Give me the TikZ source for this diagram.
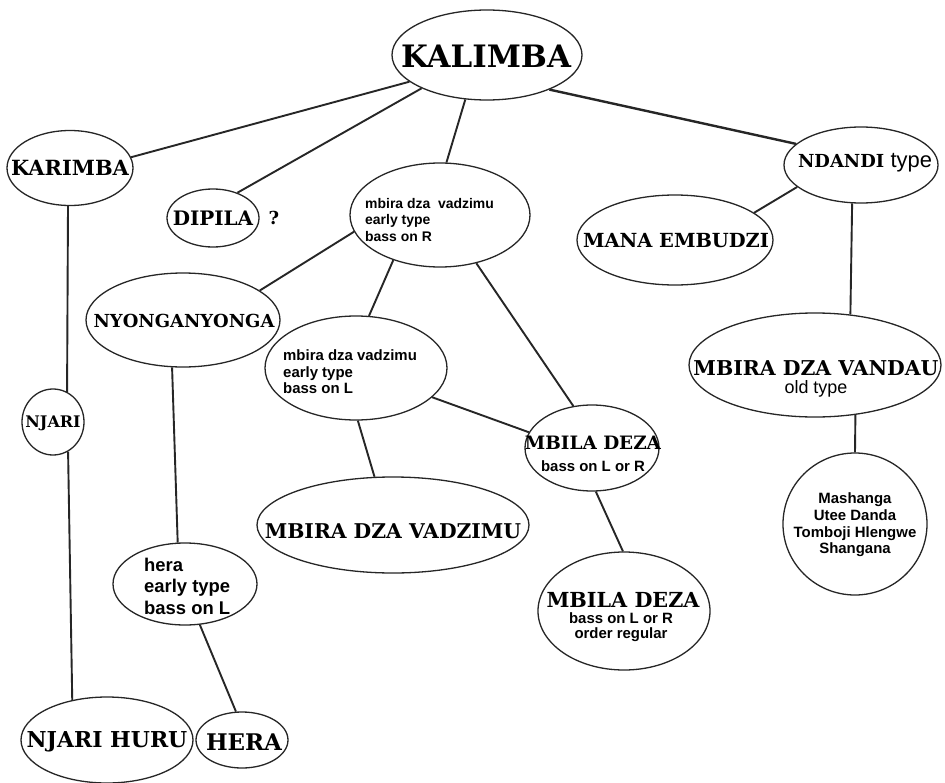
\documentclass[tikz,border=0pt]{standalone}
\usepackage{fontspec}
\setmainfont{Liberation Sans}
\newfontfamily\hv{DejaVu Serif}
\usetikzlibrary{shapes.geometric}
\newcommand{\hvf}[1]{\hv\bfseries\fontsize{#1}{#1}\selectfont}
\newcommand{\sbf}[2]{\bfseries\fontsize{#1}{#2}\selectfont}
\newcommand{\snf}[1]{\normalfont\fontsize{#1}{#1}\selectfont}
\tikzset{
  bub/.style={ellipse, draw=black!85, line width=1.3bp, inner sep=0pt},
  con/.style={draw=black!85, line width=1.9bp},
  txt/.style={inner sep=0pt, text=black},
}
\begin{document}
\begin{tikzpicture}[x=1bp,y=-1bp]
\useasboundingbox[fill=white] (0,0) rectangle (945,783);
% ellipses
\node[bub, minimum width=190bp, minimum height=90bp] (kalimba) at (487,55) {};
\node[bub, minimum width=126bp, minimum height=75bp] (karimba) at (70,168) {};
\node[bub, minimum width=92bp, minimum height=58bp] (dipila) at (213,218) {};
\node[bub, minimum width=180bp, minimum height=104bp] (vadzR) at (440,215) {};
\node[bub, minimum width=154bp, minimum height=76bp] (ndandi) at (861,165) {};
\node[bub, minimum width=196bp, minimum height=90bp] (mana) at (675,240) {};
\node[bub, minimum width=194bp, minimum height=94bp] (nyong) at (183,320) {};
\node[bub, minimum width=182bp, minimum height=104bp] (vadzL) at (356,368) {};
\node[bub, minimum width=252bp, minimum height=104bp] (vandau) at (815,365) {};
\node[bub, minimum width=62bp, minimum height=66bp] (njari) at (53,422) {};
\node[bub, minimum width=134bp, minimum height=86bp] (mbila) at (592,448) {};
\node[bub, minimum width=272bp, minimum height=96bp] (mdv) at (393,525) {};
\node[bub, minimum width=144bp, minimum height=142bp] (mash) at (855,524) {};
\node[bub, minimum width=144bp, minimum height=82bp] (hera) at (185,584) {};
\node[bub, minimum width=172bp, minimum height=118bp] (mbilab) at (624,611) {};
\node[bub, minimum width=172bp, minimum height=86bp] (njarih) at (107,740) {};
\node[bub, minimum width=92bp, minimum height=56bp] (herab) at (242,740) {};
% texts
\node[txt, font=\hvf{31}] (kalimbaT) at (486,56) {KALIMBA};
\node[txt, font=\hvf{21}] (karimbaT) at (70,168) {KARIMBA};
\node[txt, font=\hvf{20}] (dipilaT) at (213,218) {DIPILA};
\node[txt, font=\hvf{18}] (qmark) at (274,218) {?};
\node[txt, anchor=west, align=left, font=\sbf{14}{17}] (vadzRT) at (365,220) {mbira dza\ \ vadzimu\\ early type\\ bass on R};
\node[txt, font=\hvf{18}] (ndandiT) at (865,163) {NDANDI {\snf{22}type}};
\node[txt, font=\hvf{19.5}] (manaT) at (676,241) {MANA EMBUDZI};
\node[txt, font=\hvf{18}] (nyongT) at (184,321) {NYONGANYONGA};
\node[txt, anchor=west, align=left, font=\sbf{15}{16.5}] (vadzLT) at (283,372) {mbira dza vadzimu\\ early type\\ bass on L};
\node[txt, font=\hvf{20.5}] (vandauT) at (816,368) {MBIRA DZA VANDAU};
\node[txt, font=\snf{18}] (vandauS) at (816,389) {old type};
\node[txt, font=\hvf{16}] (njariT) at (53,423) {NJARI};
\node[txt, font=\hvf{18.5}] (mbilaT) at (593,443) {MBILA DEZA};
\node[txt, font=\sbf{15}{15}] (mbilaS) at (593,466) {bass\ on\ L\ or\ R};
\node[txt, font=\hvf{20.4}] (mdvT) at (393,531) {MBIRA DZA VADZIMU};
\node[txt, align=center, font=\sbf{15}{16.7}] (mashT) at (855,525) {Mashanga\\ Utee Danda\\ Tomboji Hlengwe\\ Shangana};
\node[txt, anchor=west, align=left, font=\sbf{18.5}{21.5}] (heraT) at (144,586) {hera\\ early type\\ bass on L};
\node[txt, font=\hvf{20.8}] (mbilabT) at (623,600) {MBILA DEZA};
\node[txt, align=center, font=\sbf{15}{15.5}] (mbilabS) at (621,627) {bass on L or R\\ order regular};
\node[txt, font=\hvf{22}] (njarihT) at (107,742) {NJARI HURU};
\node[txt, font=\hvf{23}] (herabT) at (244,742) {HERA};
% connectors
\draw[con] (kalimba.199) -- (karimba.10);
\draw[con] (kalimba.207) -- (dipila.46);
\draw[con] (kalimba.244) -- (vadzR.83);
\draw[con, line width=2.4bp] (kalimba.-29) -- (ndandi.162);
\draw[con] (karimba.-93) -- (njari.65);
\draw[con] (njari.-63) -- (njarih.131);
\draw[con] (vadzR.191) -- (nyong.21);
\draw[con] (vadzR.224) -- (vadzL.76);
\draw[con] (vadzR.-53) -- (mbila.114);
\draw[con] (vadzL.-21) -- (mbila.166);
\draw[con] (vadzL.-88) -- (mdv.111);
\draw[con] (nyong.-103) -- (hera.100);
\draw[con] (hera.-70) -- (herab.102);
\draw[con] (mbila.-85) -- (mbilab.91);
\draw[con] (ndandi.199) -- (mana.19);
\draw[con] (ndandi.-103) -- (vandau.55);
\draw[con] (vandau.-51) -- (mash.90);
\end{tikzpicture}
\end{document}
